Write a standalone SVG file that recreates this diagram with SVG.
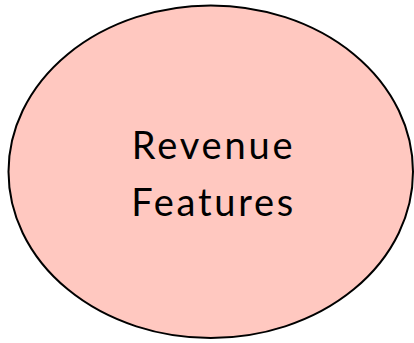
<svg xmlns="http://www.w3.org/2000/svg" width="414" height="343" viewBox="0 0 414 343">
  <style>
    .node-shape { fill: #ffc8c0; stroke: #000000; stroke-width: 2; }
    .node-label { font-family: Lato, "Open Sans", "Liberation Sans", sans-serif; font-size: 38px; fill: #000000; text-anchor: middle; }
  </style>
  <rect width="414" height="343" fill="#ffffff"/>
  <g id="revenue-features">
    <ellipse class="node-shape" cx="210.75" cy="171.75" rx="202.25" ry="166.25"/>
    <text class="node-label" x="212.2" y="159.3" textLength="161" lengthAdjust="spacing">Revenue</text>
    <text class="node-label" x="212.2" y="215.7" textLength="162" lengthAdjust="spacing">Features</text>
  </g>
  <g id="connectors"/>
</svg>
